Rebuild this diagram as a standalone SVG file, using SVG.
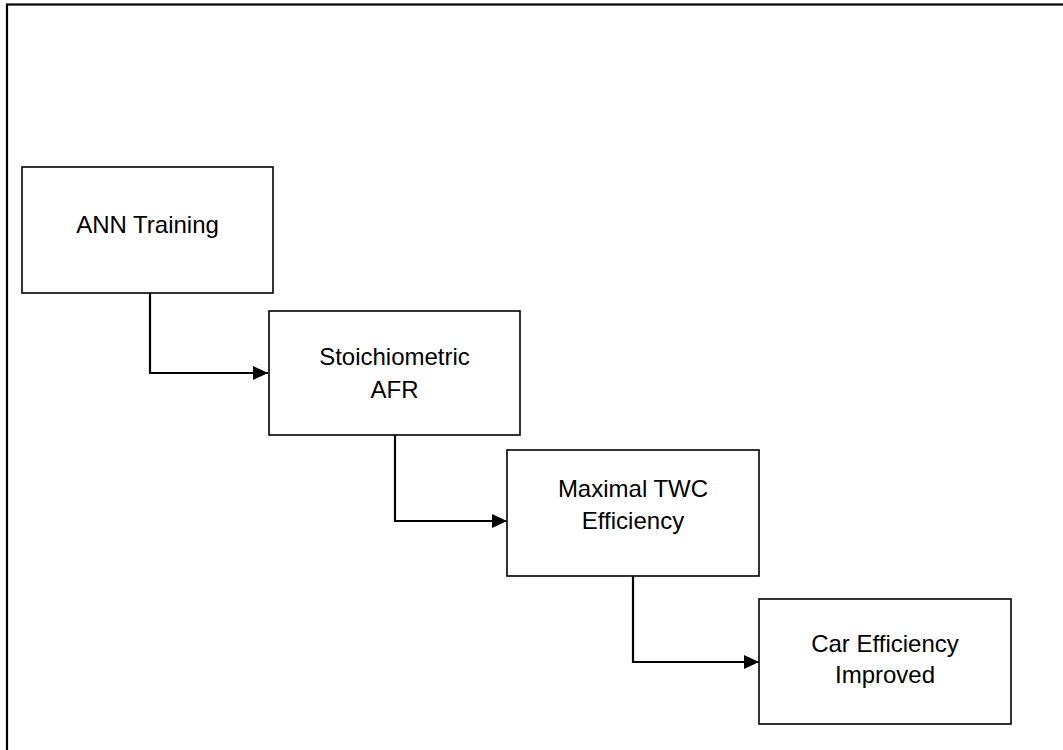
<svg xmlns="http://www.w3.org/2000/svg" width="1063" height="750" viewBox="0 0 1063 750">
  <style>
    .frame { fill: none; stroke: #000; stroke-width: 2.2; }
    .box { fill: #fff; stroke: #000; stroke-width: 1.6; }
    .label { font-family: "Liberation Sans", Arial, sans-serif; font-size: 24px; fill: #000; text-anchor: middle; }
    .conn { fill: none; stroke: #000; stroke-width: 2.2; }
  </style>
  <defs>
    <marker id="arrow" viewBox="0 0 15 14" refX="15" refY="7" markerWidth="15" markerHeight="14" markerUnits="userSpaceOnUse" orient="auto">
      <path d="M0,0 L15,7 L0,14 Z" fill="#000"/>
    </marker>
  </defs>
  <rect width="1063" height="750" fill="#fff"/>
  <!-- outer frame (right and bottom sides run past the page edge) -->
  <rect class="frame" x="7" y="4.5" width="1080" height="780"/>

  <g id="connectors">
    <path class="conn" d="M150,293 V373 H268" marker-end="url(#arrow)"/>
    <path class="conn" d="M395,435 V521 H507" marker-end="url(#arrow)"/>
    <path class="conn" d="M633,576 V662 H759" marker-end="url(#arrow)"/>
  </g>

  <g id="ann-training">
    <rect class="box" x="22" y="167" width="251" height="126"/>
    <text class="label" x="147.5" y="233">ANN Training</text>
  </g>
  <g id="stoichiometric-afr">
    <rect class="box" x="269" y="311" width="251" height="124"/>
    <text class="label" x="394.5" y="365">Stoichiometric</text>
    <text class="label" x="394.5" y="398">AFR</text>
  </g>
  <g id="maximal-twc">
    <rect class="box" x="507" y="450" width="252" height="126"/>
    <text class="label" x="633" y="497">Maximal TWC</text>
    <text class="label" x="633" y="529">Efficiency</text>
  </g>
  <g id="car-efficiency">
    <rect class="box" x="759" y="599" width="252" height="125"/>
    <text class="label" x="885" y="652">Car Efficiency</text>
    <text class="label" x="885" y="683">Improved</text>
  </g>
</svg>
